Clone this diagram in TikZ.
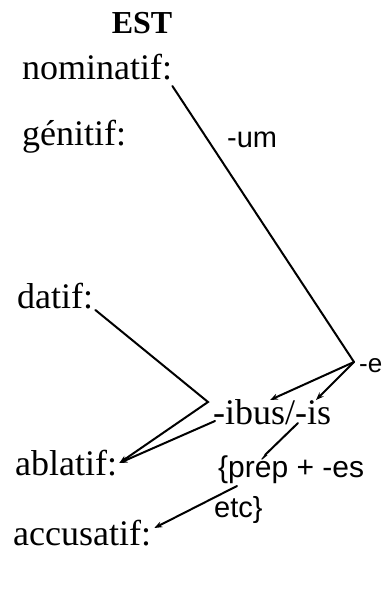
\documentclass[tikz,border=0pt]{standalone}
\usepackage{fontspec}
\setmainfont{Liberation Serif}
\newfontfamily\sufffont{Liberation Sans}
\usetikzlibrary{arrows.meta,positioning,calc}

\begin{document}
\begin{tikzpicture}[
            x=1pt, y=-1pt,
            >={Stealth[length=8pt,width=6pt]},
            caselbl/.style={anchor=base west, inner sep=0pt, font=\fontsize{36}{40}\selectfont},
            ending/.style={anchor=base west, inner sep=0pt, font=\sufffont\fontsize{29}{34}\selectfont},
            link/.style={line width=2pt, line cap=round}
        ]
            \useasboundingbox (0,0) rectangle (385,599);

            \node[anchor=base, inner sep=0pt, font=\bfseries\fontsize{32}{36}\selectfont] (est) at (142,34) {EST};

            \node[caselbl] (nom) at (22,80) {nominatif:};
            \node[caselbl] (gen) at (22,145) {génitif:};
            \node[caselbl] (dat) at (17,308) {datif:};
            \node[caselbl] (abl) at (15,475) {ablatif:};
            \node[caselbl] (acc) at (13,545) {accusatif:};

            \node[ending] (um) at (227,147) {-um};
            \node[ending, font=\sufffont\fontsize{26}{30}\selectfont] (e) at (359,372) {-e};
            \node[caselbl] (ibus) at (213,424) {-ibus/-is};
            \node[ending, font=\sufffont\fontsize{30}{34}\selectfont] (prep) at (218,477) {\{prép + -es};
            \node[ending] (etc) at (214,517) {etc\}};

            \coordinate (ve) at (354,362);
            \coordinate (vd) at (208,402);

            \draw[link] ([shift={(0pt,-6pt)}]nom.base east) -- (ve);
            \draw[link,->] ([shift={(2pt,-2pt)}]dat.base east) -- (vd) -- ([shift={(2pt,12pt)}]abl.base east);
            \draw[link,->] ([shift={(2pt,3pt)}]ibus.base west) -- ([shift={(2pt,12pt)}]abl.base east);
            \draw[link,->] (ve) -- ([shift={(57pt,24pt)}]ibus.base west);
            \draw[link,->] (ve) -- ([shift={(103pt,24pt)}]ibus.base west);
            \draw[link] ([shift={(85pt,1pt)}]ibus.base west) -- ([shift={(47pt,22pt)}]prep.base west);
            \draw[link,->] ([shift={(19pt,-9pt)}]prep.base west) -- ([shift={(3pt,17pt)}]acc.base east);
        \end{tikzpicture}
\end{document}
